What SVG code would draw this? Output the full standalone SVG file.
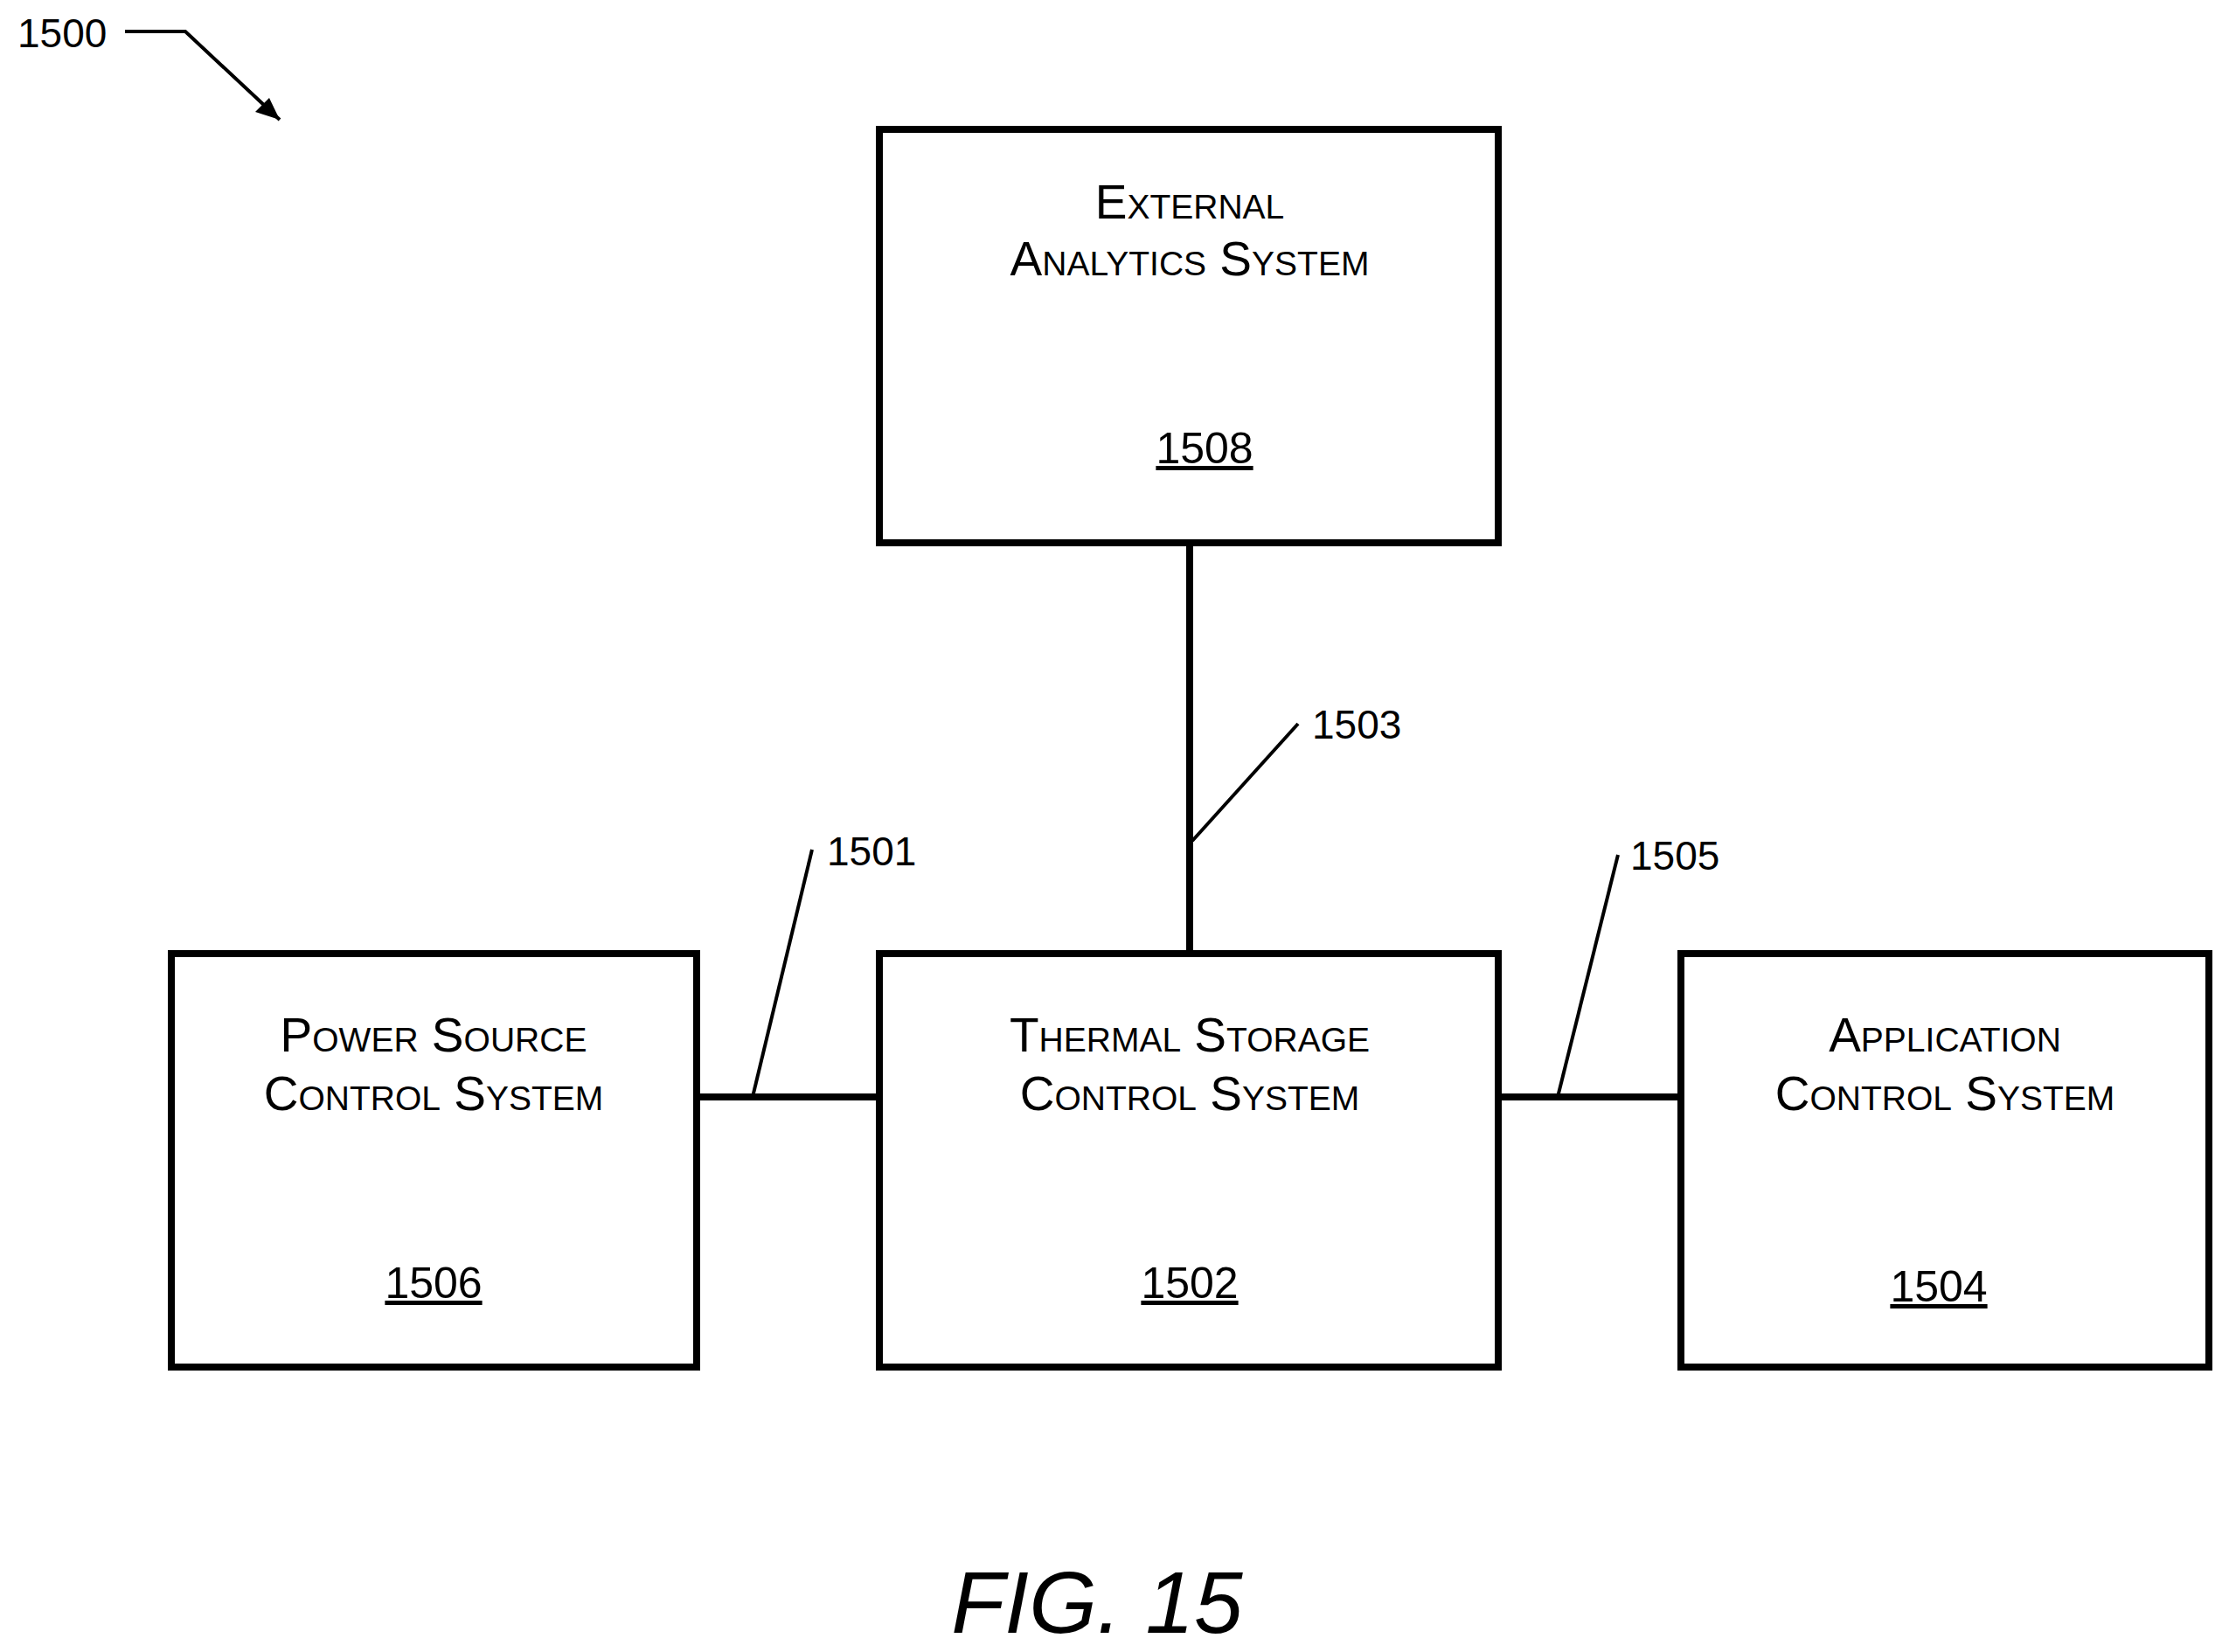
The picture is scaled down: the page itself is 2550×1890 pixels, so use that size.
<svg xmlns="http://www.w3.org/2000/svg" width="2550" height="1890" viewBox="0 0 2550 1890">
<defs>
<style>
.box{fill:#fff;stroke:#000;stroke-width:8}
.t{font-family:"Liberation Sans",Arial,sans-serif;font-size:55px;font-variant:small-caps;text-anchor:middle;fill:#000}
.n{font-family:"Liberation Sans",Arial,sans-serif;font-size:50px;text-anchor:middle;text-decoration:underline;fill:#000}
.l{font-family:"Liberation Sans",Arial,sans-serif;font-size:46px;fill:#000}
.w{stroke:#000;stroke-width:8;fill:none}
.ld{stroke:#000;stroke-width:4;fill:none}
</style>
</defs>
<rect width="2550" height="1890" fill="#fff"/>
<g id="connectors">
<line class="w" x1="1361" y1="621" x2="1361" y2="1091"/>
<line class="w" x1="797" y1="1255" x2="1006" y2="1255"/>
<line class="w" x1="1714" y1="1255" x2="1923" y2="1255"/>
<line class="ld" x1="1364" y1="962" x2="1485" y2="828"/>
<line class="ld" x1="861" y1="1255" x2="929" y2="972"/>
<line class="ld" x1="1782" y1="1255" x2="1851" y2="978"/>
<path class="ld" d="M143,36 L212,36 L320,137"/>
<path d="M320,137 L292,128 L308,112 z"/>
</g>
<g id="labels">
<text class="l" x="20" y="54">1500</text>
<text class="l" x="1501" y="845">1503</text>
<text class="l" x="946" y="990">1501</text>
<text class="l" x="1865" y="995">1505</text>
<text x="1255" y="1868" font-family="Liberation Sans,Arial,sans-serif" font-style="italic" font-size="100" text-anchor="middle">FIG. 15</text>
</g>
<g id="n1508"><rect class="box" x="1006" y="148" width="708" height="473"/>
<text class="t" x="1361" y="250">External</text><text class="t" x="1361" y="315">Analytics System</text><text class="n" x="1378" y="530">1508</text></g>
<g id="n1502"><rect class="box" x="1006" y="1091" width="708" height="473"/>
<text class="t" x="1361" y="1203">Thermal Storage</text><text class="t" x="1361" y="1270">Control System</text><text class="n" x="1361" y="1485">1502</text></g>
<g id="n1506"><rect class="box" x="196" y="1091" width="601" height="473"/>
<text class="t" x="496" y="1203">Power Source</text><text class="t" x="496" y="1270">Control System</text><text class="n" x="496" y="1485">1506</text></g>
<g id="n1504"><rect class="box" x="1923" y="1091" width="604" height="473"/>
<text class="t" x="2225" y="1203">Application</text><text class="t" x="2225" y="1270">Control System</text><text class="n" x="2218" y="1489">1504</text></g>
</svg>
